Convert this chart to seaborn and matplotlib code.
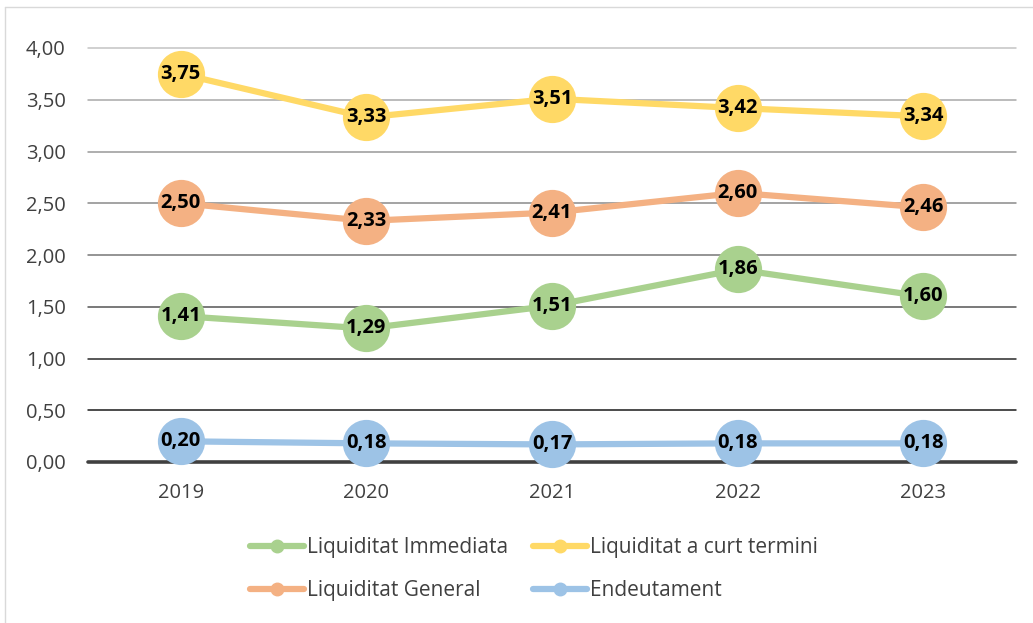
import matplotlib
matplotlib.use("Agg")
import matplotlib.pyplot as plt
from matplotlib.lines import Line2D
import seaborn as sns
import pandas as pd

years = ["2019", "2020", "2021", "2022", "2023"]
series_names = ["Liquiditat Immediata", "Liquiditat a curt termini", "Liquiditat General", "Endeutament"]
immediata = [1.41, 1.29, 1.51, 1.86, 1.60]
curt_termini = [3.75, 3.33, 3.51, 3.42, 3.34]
general = [2.50, 2.33, 2.41, 2.60, 2.46]
endeutament = [0.20, 0.18, 0.17, 0.18, 0.18]
y_ticks = [0.0, 0.5, 1.0, 1.5, 2.0, 2.5, 3.0, 3.5, 4.0]

colors = {
    "Liquiditat Immediata": "#A9D18E",
    "Liquiditat a curt termini": "#FFD966",
    "Liquiditat General": "#F4B183",
    "Endeutament": "#9DC3E6",
}

rows = []
for name, vals in zip(series_names, [immediata, curt_termini, general, endeutament]):
    for i, (yr, v) in enumerate(zip(years, vals)):
        rows.append({"idx": i, "year": yr, "value": v, "series": name})
df = pd.DataFrame(rows)

sns.set_style("white")
plt.rcParams["font.family"] = ["Open Sans", "DejaVu Sans"]

fig = plt.figure(figsize=(10.33, 6.23), dpi=100)
ax = fig.add_axes([88/1033, 1-462/623, (1016-88)/1033, (462-48)/623])

grid_cols = ["#404040", "#1a1a1a", "#2a2a2a", "#555555", "#777777", "#8a8a8a", "#999999", "#a8a8a8", "#c4c4c4"]
for yv, c in zip(y_ticks, grid_cols):
    if yv == 0:
        ax.axhline(yv, color="#404040", lw=2.6, zorder=1)
    else:
        ax.axhline(yv, color=c, lw=1.1, zorder=1)

sns.lineplot(data=df, x="idx", y="value", hue="series", palette=colors,
             hue_order=series_names, marker="o", markersize=34, markeredgewidth=0,
             linewidth=4.5, ax=ax, legend=False, zorder=3)
for line in ax.lines:
    line.set_clip_on(False)

for _, r in df.iterrows():
    ax.text(r["idx"], r["value"], f"{r['value']:.2f}".replace(".", ","),
            ha="center", va="center", fontsize=14.5, fontweight="bold", color="black", zorder=5)

ax.set_xlim(-0.5, 4.5)
ax.set_ylim(0, 4)
ax.set_yticks(y_ticks)
ax.set_yticklabels([f"{t:.2f}".replace(".", ",") for t in y_ticks])
ax.set_xticks(range(len(years)))
ax.set_xticklabels(years)
ax.tick_params(axis="both", labelsize=14.5, labelcolor="#404040", length=0)
ax.tick_params(axis="y", pad=16)
ax.tick_params(axis="x", pad=15)
ax.set_xlabel("")
ax.set_ylabel("")
for s in ax.spines.values():
    s.set_visible(False)

handles = [Line2D([0], [0], color=colors[n], lw=4.5, marker="o", markersize=9) for n in series_names]
order = [0, 2, 1, 3]
fig.legend([handles[i] for i in order], [series_names[i] for i in order],
           ncol=2, loc="center", bbox_to_anchor=(534/1033, 1-569/623), frameon=False,
           fontsize=15, labelcolor="#404040", handlelength=2.6, handletextpad=0.15,
           columnspacing=1.2, labelspacing=1.05)

fig.add_artist(Line2D([5/1033, 5/1033], [0, 1-7/623], color="#D9D9D9", lw=1))
fig.add_artist(Line2D([5/1033, 1], [1-7/623, 1-7/623], color="#D9D9D9", lw=1))

fig.savefig("out.png", dpi=100)
